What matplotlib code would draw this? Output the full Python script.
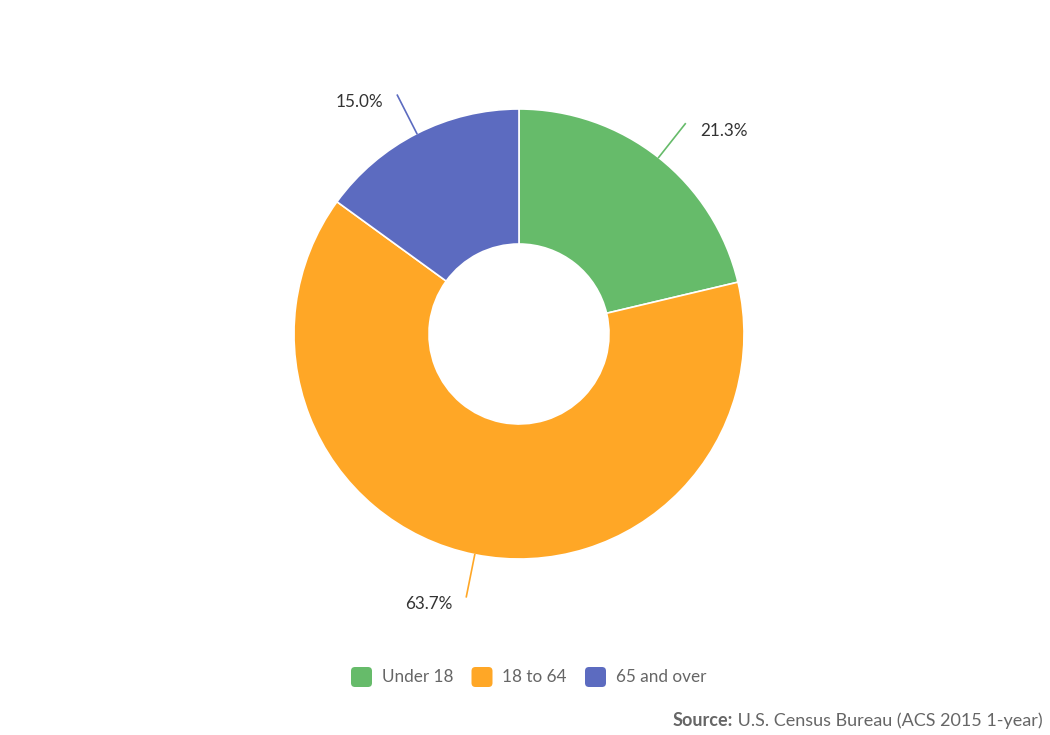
import numpy as np
import matplotlib
matplotlib.use("Agg")
import matplotlib.pyplot as plt
from matplotlib.patches import FancyBboxPatch

plt.rcParams['font.family'] = ['Lato', 'DejaVu Sans']

# Data
categories = ["Under 18", "18 to 64", "65 and over"]
shares = [21.3, 63.7, 15.0]
colors = ["#66BB6A", "#FFA726", "#5C6BC0"]
source_label = "Source:"
source_text = "U.S. Census Bureau (ACS 2015 1-year)"

W, H = 1050, 735
fig = plt.figure(figsize=(W / 100, H / 100), dpi=100)
ax = fig.add_axes([0, 0, 1, 1])

# pixel-like coordinates, y measured upward
cx, cy = 519, H - 334
r_out, r_in = 225, 90

ax.pie(shares, colors=colors, startangle=90, counterclock=False,
       center=(cx, cy), radius=r_out,
       wedgeprops=dict(width=r_out - r_in, edgecolor="white", linewidth=1.2))
ax.set_xlim(0, W)
ax.set_ylim(0, H)
ax.set_aspect("equal")
ax.axis("off")

# Data labels with connector lines
total = sum(shares)
start = 0.0
for val, col in zip(shares, colors):
    mid = (start + val / 2) / total * 2 * np.pi
    start += val
    sx, sy = np.sin(mid), np.cos(mid)
    x0, y0 = cx + r_out * sx, cy + r_out * sy
    x1, y1 = cx + 268 * sx, cy + 268 * sy
    ax.plot([x0, x1], [y0, y1], color=col, lw=1.2)
    if sx >= 0:
        ax.text(x1 + 15, y1 - 7, f"{val:.1f}%", ha="left", va="center",
                fontsize=12.3, color="#333333")
    else:
        ax.text(x1 - 14, y1 - 7, f"{val:.1f}%", ha="right", va="center",
                fontsize=12.3, color="#333333")

# Legend
fig.canvas.draw()
renderer = fig.canvas.get_renderer()
x = 351
ly = H - 677
for name, col in zip(categories, colors):
    box = FancyBboxPatch((x, ly - 10), 21, 20,
                         boxstyle="round,pad=0,rounding_size=4",
                         facecolor=col, edgecolor="none")
    ax.add_patch(box)
    t = ax.text(x + 31, ly, name, ha="left", va="center",
                fontsize=12.3, color="#666666")
    bb = t.get_window_extent(renderer)
    x = bb.x1 + 18

# Source
t = ax.text(1043, H - 721, " " + source_text, ha="right", va="center",
            fontsize=13, color="#666666")
bb = t.get_window_extent(renderer)
ax.text(bb.x0, H - 721, source_label, ha="right", va="center",
        fontsize=13, color="#666666", fontweight="bold")

fig.savefig("out.png", dpi=100)
